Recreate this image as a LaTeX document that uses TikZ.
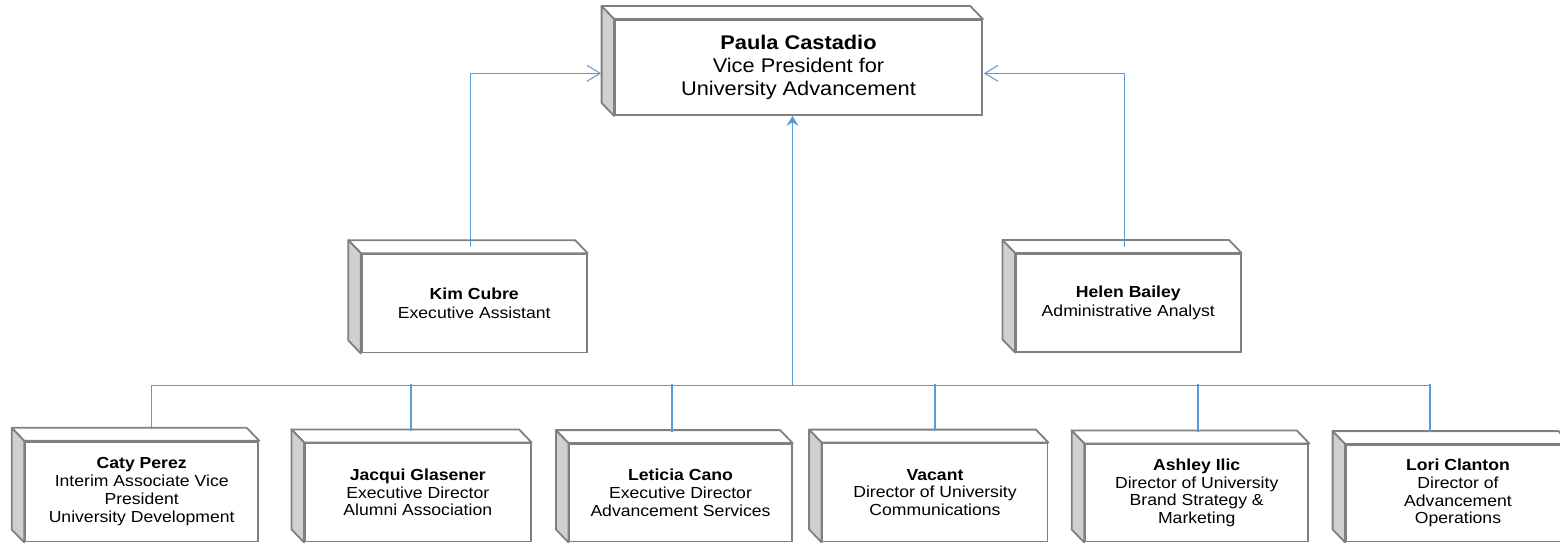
\documentclass[tikz,border=0pt]{standalone}
\usepackage{fontspec}
\setmainfont{Liberation Sans}[FakeStretch=1.1]
\usetikzlibrary{arrows.meta}
\definecolor{boxgray}{HTML}{808080}
\definecolor{sidegray}{HTML}{D0D0D0}
\definecolor{connblue}{HTML}{5B9BD5}
\tikzset{
  orgbox/.style={draw=boxgray, line width=1.8pt, fill=white, inner sep=0pt, align=center},
  topfont/.style={font=\fontsize{19.8}{23}\selectfont},
  midfont/.style={font=\fontsize{16}{18.4}\selectfont},
  lowfont/.style={font=\fontsize{16}{17.7}\selectfont},
  conn/.style={draw=connblue, line width=1pt},
  drop/.style={draw=connblue, line width=1.8pt},
  barb/.style={-{Straight Barb[length=13pt,width=16pt,line width=1pt]}},
  tip/.style={-{Stealth[length=10pt,width=12pt,inset=3.5pt]}}
}
\newcommand{\boxfaces}[1]{%
  \filldraw[fill=white, draw=boxgray, line width=1.8pt, line join=round]
    (#1.north west) -- ++(-12.5,-13) -- ([shift={(-12.5,-13)}]#1.north east) -- (#1.north east) -- cycle;
  \filldraw[fill=sidegray, draw=boxgray, line width=1.8pt, line join=round]
    (#1.north west) -- ++(-12.5,-13) -- ([shift={(-12.5,-13)}]#1.south west) -- (#1.south west) -- cycle;
}
\begin{document}
\begin{tikzpicture}[x=1pt,y=-1pt]
\clip (0,0) rectangle (1560,543);
\fill[white] (0,0) rectangle (1560,543);

% nodes (front faces)
\node[orgbox, topfont, minimum width=367pt, minimum height=95pt] (top) at (798.5,67.5)
  {\textbf{Paula Castadio}\\Vice President for\\University Advancement};
\node[orgbox, midfont, minimum width=225pt, minimum height=98.5pt] (kim) at (474.2,303.3)
  {\textbf{Kim Cubre}\\Executive Assistant};
\node[orgbox, midfont, minimum width=224.7pt, minimum height=97.7pt] (helen) at (1128.3,302.8)
  {\textbf{Helen Bailey}\\Administrative Analyst};
\node[orgbox, lowfont, minimum width=233.3pt, minimum height=99.8pt] (caty) at (141.7,491.6)
  {\textbf{Caty Perez}\\Interim Associate Vice\\President\\University Development};
\node[orgbox, lowfont, minimum width=225.7pt, minimum height=98.2pt] (jacqui) at (417.8,492.4)
  {\textbf{Jacqui Glasener}\\Executive Director\\Alumni Association};
\node[orgbox, lowfont, minimum width=222.4pt, minimum height=97.5pt] (leticia) at (680.5,492.75)
  {\textbf{Leticia Cano}\\Executive Director\\Advancement Services};
\node[orgbox, lowfont, minimum width=225pt, minimum height=98pt] (vacant) at (935,492.5)
  {\textbf{Vacant}\\Director of University\\Communications};
\node[orgbox, lowfont, minimum width=223.3pt, minimum height=97.2pt] (ashley) at (1196.7,492.9)
  {\textbf{Ashley Ilic}\\Director of University\\Brand Strategy \&\\Marketing};
\node[orgbox, lowfont, minimum width=224pt, minimum height=96.5pt] (lori) at (1458,493.25)
  {\textbf{Lori Clanton}\\Director of\\Advancement\\Operations};

\foreach \n in {top,kim,helen,caty,jacqui,leticia,vacant,ashley,lori} {\boxfaces{\n}}

% connection points
\coordinate (topL) at (601,73.3);
\coordinate (topR) at (984,73.3);
\coordinate (kimc) at (470,247);
\coordinate (helc) at (1124.3,247);
\coordinate (busc) at (792.5,385);
\coordinate (catyc) at (151.7,428.5);
\coordinate (jacqc) at (410.7,431);
\coordinate (letc) at (671.7,431.5);
\coordinate (vacc) at (935,431);
\coordinate (ashc) at (1197.7,431.5);
\coordinate (loric) at (1430,432);

% connectors
\draw[conn, barb] (kimc) |- (topL);
\draw[conn, barb] (helc) |- (topR);
\draw[conn, tip] (busc) -- (top.south -| busc);
\draw[conn] (catyc) |- (loric |- busc);
\foreach \c in {jacqc,letc,vacc,ashc,loric} {\draw[drop] ([yshift=1.5pt]\c |- busc) -- (\c);}
\end{tikzpicture}
\end{document}
